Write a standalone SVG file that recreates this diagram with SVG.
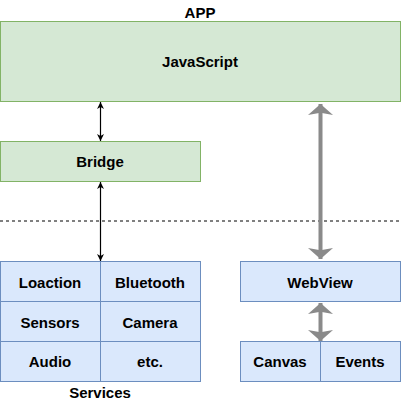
<svg xmlns="http://www.w3.org/2000/svg" width="402" height="404" viewBox="0 0 402 404">
<style>
.g{fill:#d5e8d4;stroke:#82b366;stroke-width:1}
.b{fill:#dae8fc;stroke:#6c8ebf;stroke-width:1}
text{font-family:"Liberation Sans",Arial,sans-serif;font-weight:bold;font-size:15px;fill:#000;text-anchor:middle;dominant-baseline:central}
.thin{stroke:#000;stroke-width:1.2;fill:none}
.thick{stroke:#8a8a8a;stroke-width:4;fill:none}
</style>
<defs>
<marker id="ah" viewBox="0 0 10 10" preserveAspectRatio="none" refX="10" refY="5" markerWidth="7" markerHeight="7" markerUnits="userSpaceOnUse" orient="auto-start-reverse"><path d="M0,0 L10,5 L0,10 L3,5 Z" fill="#000"/></marker>
<marker id="gh" viewBox="0 0 10 10" preserveAspectRatio="none" refX="10" refY="5" markerWidth="11" markerHeight="25" markerUnits="userSpaceOnUse" orient="auto-start-reverse"><path d="M0,0 L10,5 L0,10 L2,5 Z" fill="#8a8a8a"/></marker>
</defs>
<text x="200" y="12">APP</text>
<g id="javascript"><rect class="g" x="0.5" y="21.5" width="400" height="80"/><text x="200" y="61">JavaScript</text></g>
<g id="bridge"><rect class="g" x="0.5" y="141.5" width="200" height="40"/><text x="100" y="161">Bridge</text></g>
<g id="services">
<rect class="b" x="0.5" y="261.5" width="100" height="40"/><text x="50" y="282">Loaction</text>
<rect class="b" x="100.5" y="261.5" width="100" height="40"/><text x="150" y="282">Bluetooth</text>
<rect class="b" x="0.5" y="301.5" width="100" height="40"/><text x="50" y="322">Sensors</text>
<rect class="b" x="100.5" y="301.5" width="100" height="40"/><text x="150" y="322">Camera</text>
<rect class="b" x="0.5" y="341.5" width="100" height="40"/><text x="50" y="361">Audio</text>
<rect class="b" x="100.5" y="341.5" width="100" height="40"/><text x="150" y="361">etc.</text>
<text x="100" y="392">Services</text>
</g>
<g id="webview"><rect class="b" x="240.5" y="261.5" width="160" height="40"/><text x="320" y="282">WebView</text></g>
<g id="canvas"><rect class="b" x="240.5" y="341.5" width="80" height="40"/><text x="280" y="361">Canvas</text></g>
<g id="events"><rect class="b" x="320.5" y="341.5" width="80" height="40"/><text x="360" y="361">Events</text></g>
<g id="connectors">
<line x1="0" y1="221" x2="400" y2="221" stroke="#000" stroke-width="1" stroke-dasharray="3,3"/>
<line class="thin" x1="100.5" y1="102" x2="100.5" y2="141" marker-start="url(#ah)" marker-end="url(#ah)"/>
<line class="thin" x1="100.5" y1="182" x2="100.5" y2="261" marker-start="url(#ah)" marker-end="url(#ah)"/>
<line class="thick" x1="320.5" y1="104" x2="320.5" y2="259" marker-start="url(#gh)" marker-end="url(#gh)"/>
<line class="thick" x1="320.5" y1="303" x2="320.5" y2="341" marker-start="url(#gh)" marker-end="url(#gh)"/>
</g>
</svg>
